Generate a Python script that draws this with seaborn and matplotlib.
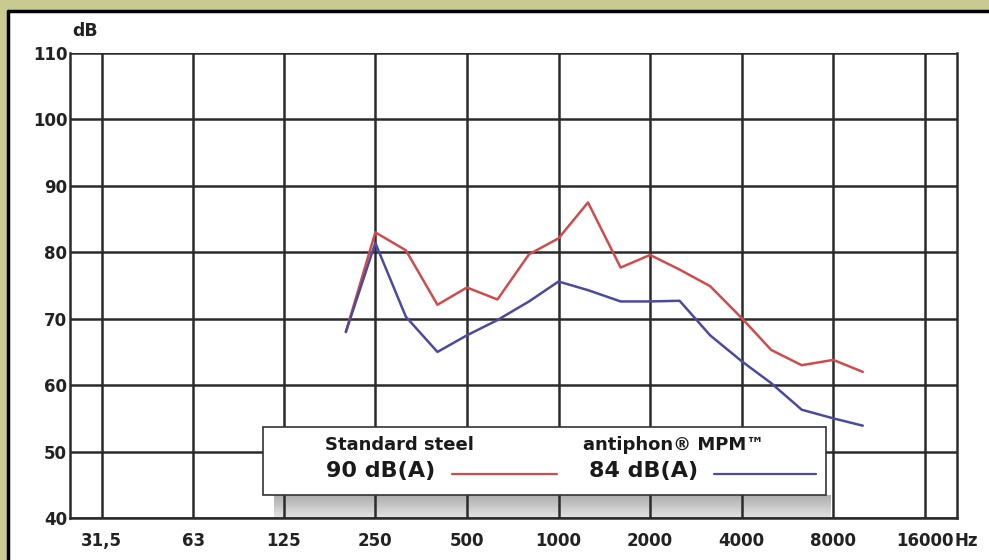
import numpy as np
import pandas as pd
import matplotlib
matplotlib.use('Agg')
import matplotlib.pyplot as plt
import seaborn as sns
from matplotlib.patches import Rectangle
from matplotlib.lines import Line2D

# third-octave bands of the measured spectra
freqs = [200, 250, 315, 400, 500, 630, 800, 1000, 1250, 1600,
         2000, 2500, 3150, 4000, 5000, 6300, 8000, 10000]
steel_db = [68.0, 83.0, 80.3, 72.1, 74.7, 72.9, 79.7, 82.1, 87.5, 77.7,
            79.6, 77.4, 74.9, 70.1, 65.3, 63.0, 63.8, 62.0]
mpm_db = [68.0, 81.4, 70.3, 65.0, 67.5, 69.8, 72.6, 75.6, 74.3, 72.6,
          72.6, 72.7, 67.5, 63.6, 60.3, 56.3, 55.0, 53.9]

x_ticks = [31.5, 63, 125, 250, 500, 1000, 2000, 4000, 8000, 16000]
x_labels = ['31,5', '63', '125', '250', '500', '1000', '2000', '4000', '8000', '16000']
y_ticks = [40, 50, 60, 70, 80, 90, 100, 110]

series_names = ['Standard steel', 'antiphon® MPM™']
series_totals = ['90 dB(A)', '84 dB(A)']
palette = {'Standard steel': '#cf4c4c', 'antiphon® MPM™': '#4a4a9e'}

df = pd.concat([
    pd.DataFrame({'freq': freqs, 'db': steel_db, 'material': series_names[0]}),
    pd.DataFrame({'freq': freqs, 'db': mpm_db, 'material': series_names[1]}),
])

sns.set_style('white')
plt.rcParams['font.family'] = ['DejaVu Sans']

W, H = 989, 560
fig = plt.figure(figsize=(W / 100, H / 100), dpi=100)
fig.patch.set_facecolor('#c9c992')

# white panel with black edge on left/top
fig.patches.append(Rectangle((8 / W, 0), 1 - 8 / W, (H - 11) / H, transform=fig.transFigure,
                             facecolor='white', edgecolor='none', zorder=-2))
fig.lines.append(Line2D([8 / W, 8 / W], [0, (H - 11) / H], transform=fig.transFigure,
                        color='black', lw=2.5, zorder=-1))
fig.lines.append(Line2D([8 / W, 1], [(H - 11) / H, (H - 11) / H], transform=fig.transFigure,
                        color='black', lw=2.5, zorder=-1))

ax_l, ax_r, ax_t, ax_b = 70, 957, 53, 518
ax = fig.add_axes([ax_l / W, (H - ax_b) / H, (ax_r - ax_l) / W, (ax_b - ax_t) / H])
ax.set_zorder(1)
ax.set_facecolor('white')

sns.lineplot(data=df, x='freq', y='db', hue='material', palette=palette,
             linewidth=1.8, legend=False, ax=ax, zorder=2)

ax.set_xscale('log')
ax.set_xlim(24.8, 20400)
ax.set_ylim(40, 110)
ax.set_xticks(x_ticks)
ax.set_xticklabels(x_labels)
ax.minorticks_off()
ax.set_yticks(y_ticks)
ax.set_xlabel('')
ax.set_ylabel('')

# grid drawn by hand so it sits above the legend shadow
ax.grid(False)
for xv in x_ticks:
    ax.axvline(xv, color='#2b2b2b', lw=1.8, zorder=1.5)
for yv in y_ticks:
    ax.axhline(yv, color='#2b2b2b', lw=1.8, zorder=1.5)
for side in ['left', 'bottom', 'right']:
    ax.spines[side].set_color('#2b2b2b')
    ax.spines[side].set_linewidth(1.8)
ax.spines['top'].set_visible(False)

ax.tick_params(axis='both', length=0, labelsize=12, colors='#222222')
ax.tick_params(axis='x', pad=10)
ax.tick_params(axis='y', pad=2)
for lab in ax.get_xticklabels() + ax.get_yticklabels():
    lab.set_fontweight('bold')

# unit after the last frequency label
ax.annotate('Hz', xy=(x_ticks[-1], 0), xycoords=('data', 'axes fraction'),
            xytext=(21, -10), textcoords='offset points', ha='left', va='top',
            fontsize=12, fontweight='bold', color='#222222')
ax.text(0.003, 1.028, 'dB', transform=ax.transAxes, fontsize=12.5, fontweight='bold',
        color='#222222', ha='left', va='bottom')

def ax_x(px):
    return (px - ax_l) / (ax_r - ax_l)

def ax_y(py):
    return (ax_b - py) / (ax_b - ax_t)

# legend box with a soft drop shadow (gridlines show through it)
bx0, bx1 = ax_x(263), ax_x(826)
by0, by1 = ax_y(495), ax_y(427)
n_steps = 12
for k in range(n_steps):
    y_hi = by0 * (1 - k / n_steps)
    y_lo = by0 * (1 - (k + 1) / n_steps)
    ax.add_patch(Rectangle((ax_x(274), y_lo), ax_x(831) - ax_x(274), y_hi - y_lo,
                           transform=ax.transAxes, facecolor='#6e6e6e',
                           alpha=0.55 - 0.38 * k / n_steps, edgecolor='none',
                           linewidth=0, zorder=1))
ax.add_patch(Rectangle((bx0, by0), bx1 - bx0, by1 - by0, transform=ax.transAxes,
                       facecolor='white', edgecolor='#333333', lw=1.2, zorder=3))

label_x = [325, 583]
total_x = [326, 589]
line_x = [(452, 557), (714, 816)]
for name, total, lx, tx, (l0, l1) in zip(series_names, series_totals, label_x, total_x, line_x):
    ax.text(ax_x(lx), ax_y(445), name, transform=ax.transAxes, fontsize=13,
            fontweight='bold', color='#1a1a1a', ha='left', va='center', zorder=4)
    ax.text(ax_x(tx), ax_y(471), total, transform=ax.transAxes, fontsize=16,
            fontweight='bold', color='#1a1a1a', ha='left', va='center', zorder=4)
    ax.plot([ax_x(l0), ax_x(l1)], [ax_y(474), ax_y(474)], transform=ax.transAxes,
            color=palette[name], lw=1.6, zorder=4)

fig.savefig('out.png', dpi=100, facecolor=fig.get_facecolor())
